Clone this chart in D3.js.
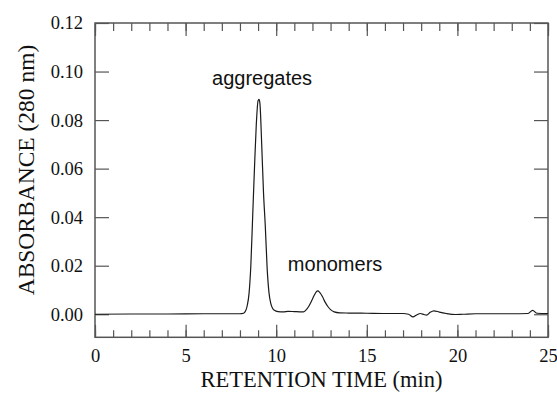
<!DOCTYPE html>
<html>
<head>
<meta charset="utf-8">
<script src="https://cdn.jsdelivr.net/npm/d3@7/dist/d3.min.js"></script>
<style>
  html, body { margin: 0; padding: 0; background: #fff; }
  svg { display: block; }
  .tick text { font-family: "Liberation Serif", "Times New Roman", serif; font-size: 18.5px; fill: #111; }
</style>
</head>
<body>
<svg id="chart" width="557" height="397"></svg>
<script>
// Size-exclusion chromatogram: absorbance at 280 nm vs retention time
const retentionTime = [
  0, 2, 4, 6, 7, 8, 8.2, 8.3, 8.4, 8.5, 8.6, 8.7, 8.8, 8.9, 9.0, 9.05, 9.1, 9.2, 9.3, 9.4,
  9.5, 9.6, 9.7, 9.8, 9.9, 10.1, 10.4, 10.65, 11.0, 11.3, 11.5, 11.65, 11.8, 11.95, 12.1,
  12.2, 12.3, 12.4, 12.55, 12.7, 12.85, 13.0, 13.2, 13.5, 14.0, 15.0, 16.0, 17.0, 17.3,
  17.55, 17.75, 17.95, 18.15, 18.3, 18.5, 18.7, 19.0, 19.4, 19.9, 20.3, 21.0, 22.0, 23.0,
  23.9, 24.15, 24.4, 25.0
];
const absorbance = [
  0.0000, 0.0001, 0.0001, 0.0002, 0.0002, 0.0002, 0.0004, 0.0012, 0.0035, 0.0085, 0.0200,
  0.0400, 0.0600, 0.0780, 0.0880, 0.0885, 0.0870, 0.0700, 0.0500, 0.0360, 0.0190, 0.0090,
  0.0045, 0.0025, 0.0016, 0.0011, 0.0010, 0.0012, 0.0011, 0.0010, 0.0010, 0.0018, 0.0033,
  0.0055, 0.0078, 0.0091, 0.0096, 0.0090, 0.0073, 0.0050, 0.0032, 0.0019, 0.0010, 0.0006,
  0.0005, 0.0004, 0.0003, 0.0003, 0.0000, -0.0011, -0.0003, 0.0003, -0.0001, -0.0004,
  0.0008, 0.0014, 0.0009, 0.0003, -0.0001, 0.0000, 0.0002, 0.0002, 0.0002, 0.0003, 0.0016,
  0.0004, 0.0003
];
const xMajorTicks = [0, 5, 10, 15, 20, 25];
const xMinorTicks = d3.range(0, 26, 1);
const yTicks = [0.00, 0.02, 0.04, 0.06, 0.08, 0.10, 0.12];
const peakLabels = ["aggregates", "monomers"];
const peakLabelPos = [[9.22, 0.0945], [13.25, 0.0178]];

const svg = d3.select("#chart");
const plotLeft = 95, plotRight = 548, plotTop = 23, plotBottom = 337.3;

const x = d3.scaleLinear().domain([0, 25]).range([plotLeft, plotRight]);
const y = d3.scaleLinear().domain([-0.0095, 0.12]).range([plotBottom, plotTop]);

const axisColor = "#555";

function styleAxis(g) {
  g.select(".domain").remove();
  g.selectAll(".tick line").attr("stroke", axisColor).attr("stroke-width", 1.2);
}

// bottom axis: minor ticks, then major ticks with labels
svg.append("g").attr("transform", `translate(0,${plotBottom})`)
  .call(d3.axisBottom(x).tickValues(xMinorTicks).tickSize(-7).tickFormat(""))
  .call(styleAxis);
svg.append("g").attr("transform", `translate(0,${plotBottom})`)
  .call(d3.axisBottom(x).tickValues(xMajorTicks).tickSize(-12.5).tickPadding(12).tickFormat(d3.format("d")))
  .call(styleAxis);

// top axis mirrors the bottom one without labels
svg.append("g").attr("transform", `translate(0,${plotTop})`)
  .call(d3.axisTop(x).tickValues(xMinorTicks).tickSize(-8).tickFormat(""))
  .call(styleAxis);
svg.append("g").attr("transform", `translate(0,${plotTop})`)
  .call(d3.axisTop(x).tickValues(xMajorTicks).tickSize(-13).tickFormat(""))
  .call(styleAxis);

// left axis with labels, right axis mirrored
svg.append("g").attr("transform", `translate(${plotLeft},0)`)
  .call(d3.axisLeft(y).tickValues(yTicks).tickSize(-14).tickPadding(12).tickFormat(d3.format(".2f")))
  .call(styleAxis);
svg.append("g").attr("transform", `translate(${plotRight},0)`)
  .call(d3.axisRight(y).tickValues(yTicks).tickSize(-14).tickFormat(""))
  .call(styleAxis);

// plot frame
svg.append("rect")
  .attr("x", plotLeft).attr("y", plotTop)
  .attr("width", plotRight - plotLeft).attr("height", plotBottom - plotTop)
  .attr("fill", "none").attr("stroke", axisColor).attr("stroke-width", 1.5);

// chromatogram trace
const pts = retentionTime.map((t, i) => [t, absorbance[i]]);
svg.append("path")
  .datum(pts)
  .attr("fill", "none")
  .attr("stroke", "#1a1a1a")
  .attr("stroke-width", 1.2)
  .attr("d", d3.line().x(d => x(d[0])).y(d => y(d[1])).curve(d3.curveMonotoneX));

// peak annotations
svg.selectAll("text.peak")
  .data(peakLabels)
  .enter().append("text")
  .attr("class", "peak")
  .attr("x", (d, i) => x(peakLabelPos[i][0]))
  .attr("y", (d, i) => y(peakLabelPos[i][1]))
  .attr("text-anchor", "middle")
  .attr("font-family", "'Liberation Sans', Arial, sans-serif")
  .attr("font-size", 20)
  .attr("fill", "#111")
  .text(d => d);

// axis titles
svg.append("text")
  .attr("x", (plotLeft + plotRight) / 2).attr("y", 386.5)
  .attr("text-anchor", "middle")
  .attr("font-family", "'Liberation Serif', 'Times New Roman', serif")
  .attr("font-size", 22.5)
  .attr("fill", "#111")
  .text("RETENTION TIME (min)");

svg.append("text")
  .attr("transform", "translate(34,170) rotate(-90)")
  .attr("text-anchor", "middle")
  .attr("font-family", "'Liberation Serif', 'Times New Roman', serif")
  .attr("font-size", 23.5)
  .attr("fill", "#111")
  .text("ABSORBANCE (280 nm)");
</script>
</body>
</html>
